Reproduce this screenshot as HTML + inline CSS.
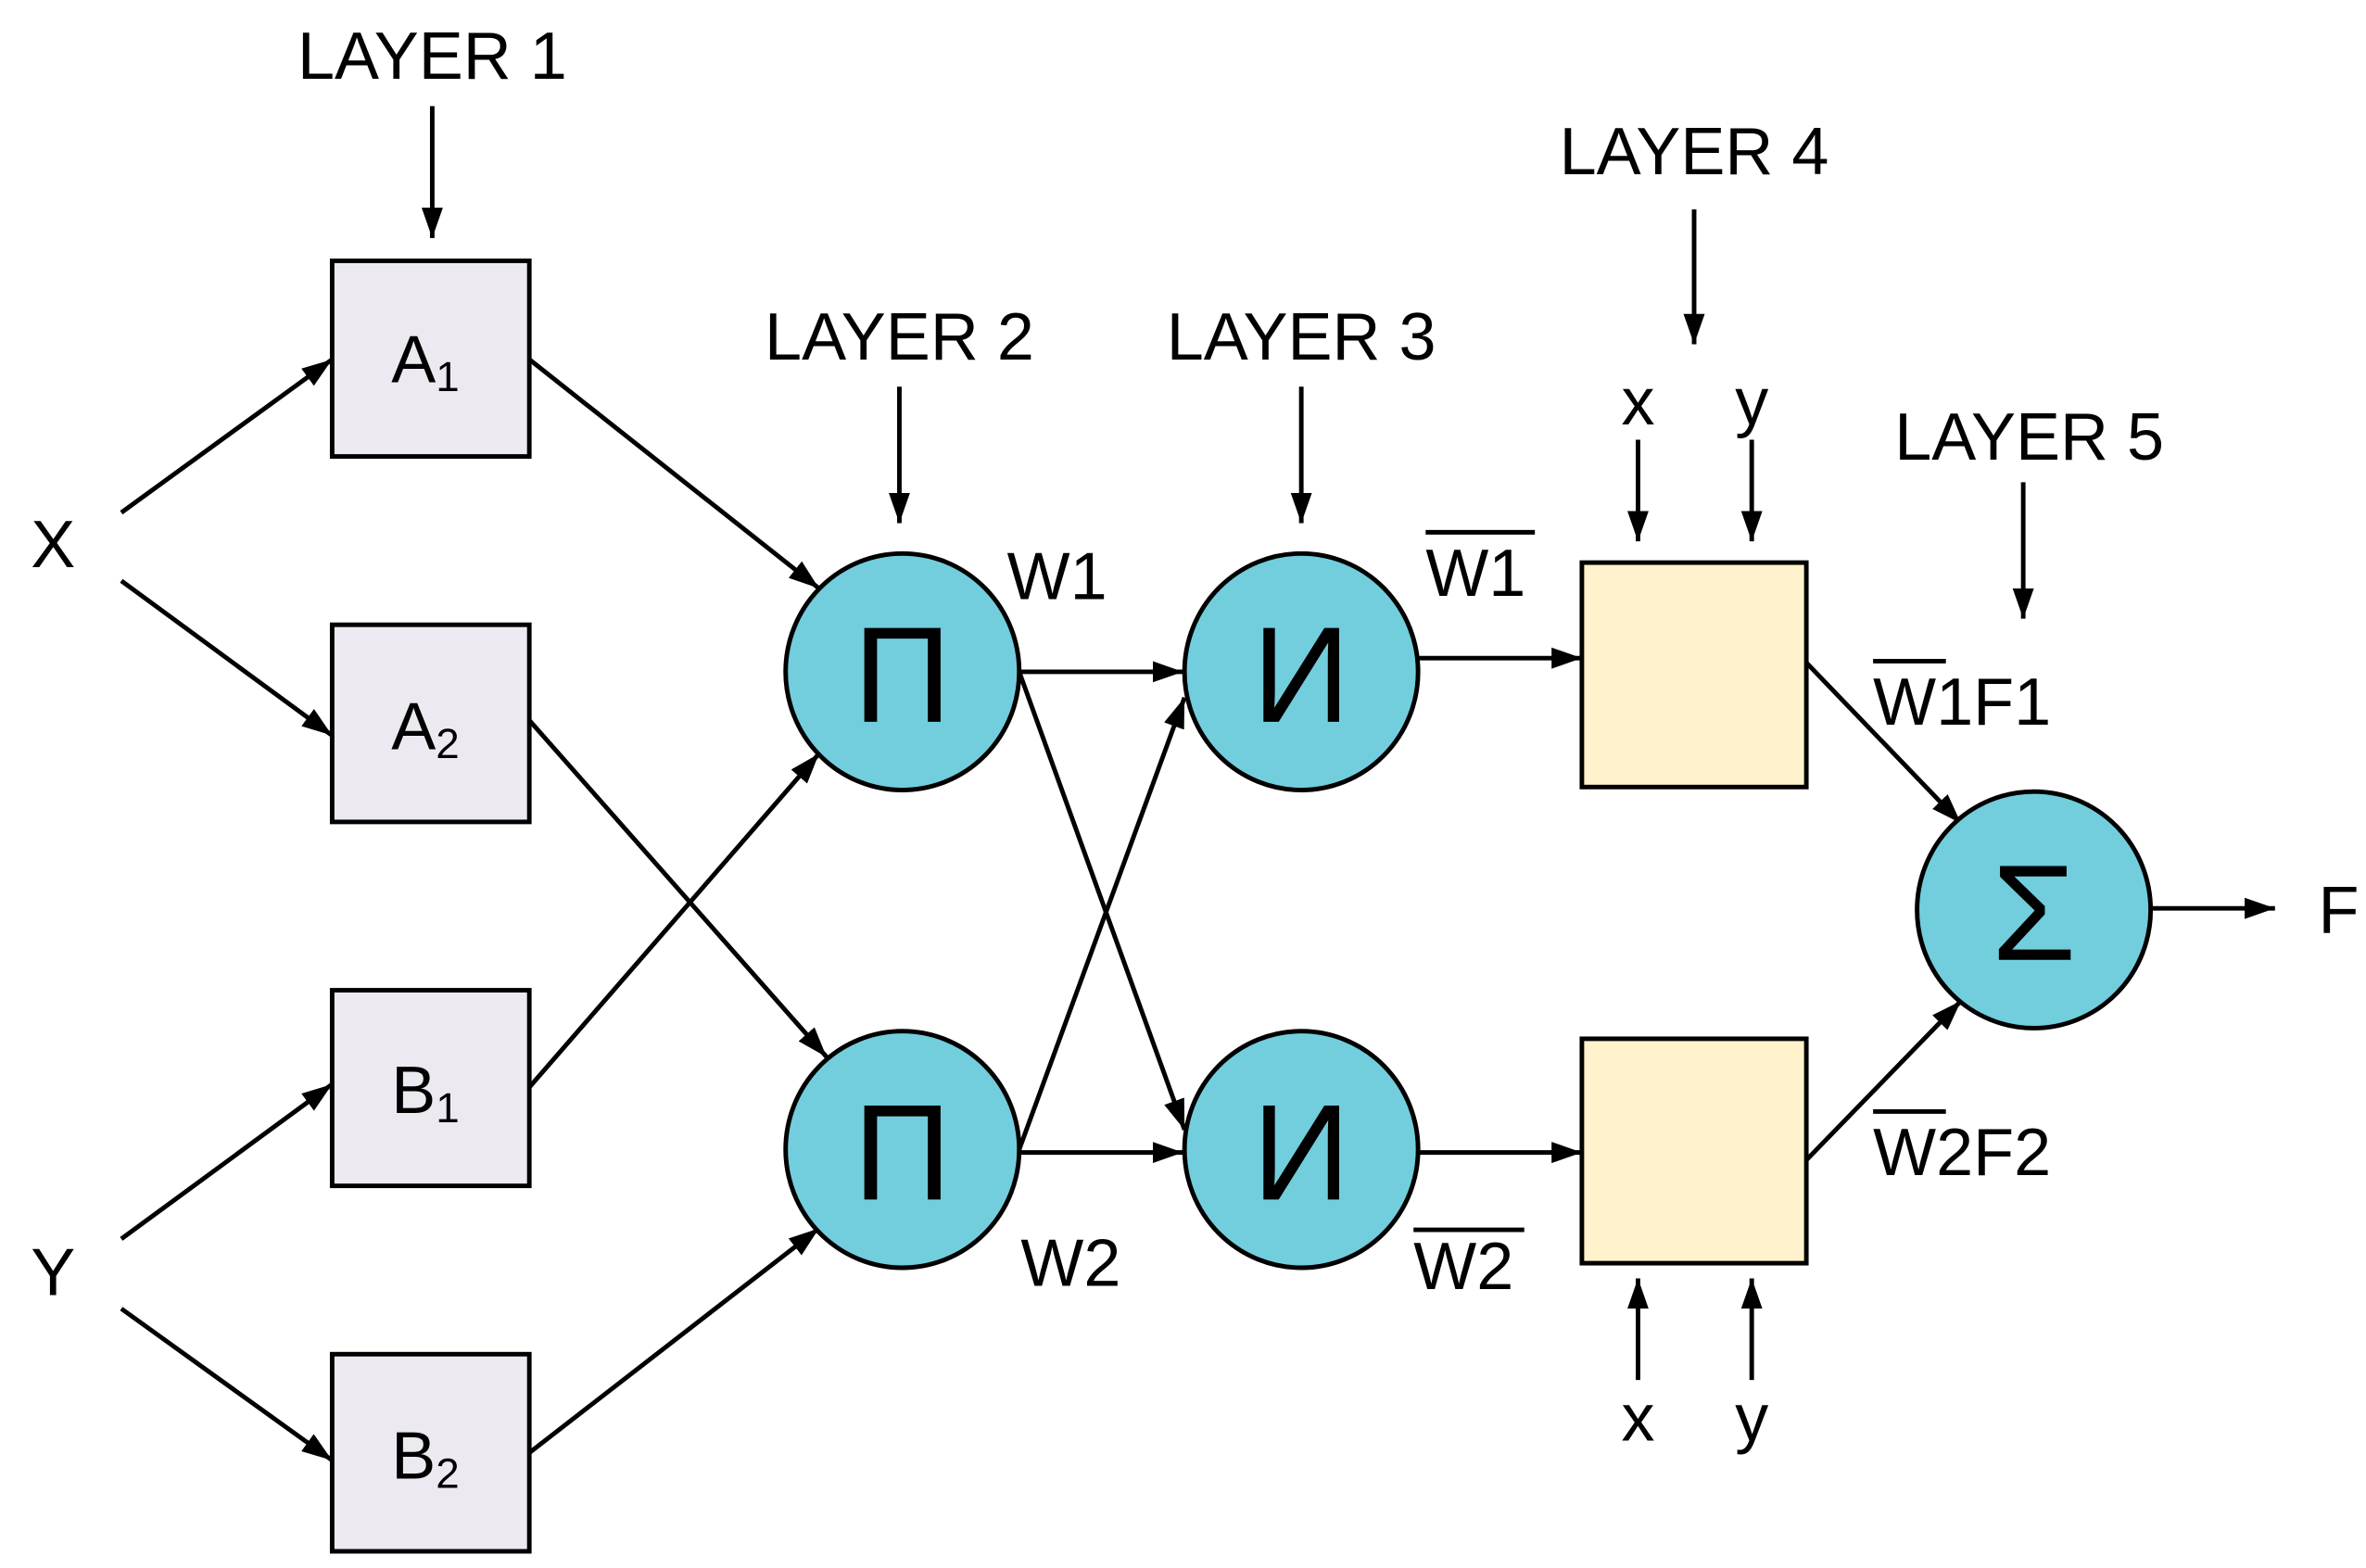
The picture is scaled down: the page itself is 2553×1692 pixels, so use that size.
<!DOCTYPE html>
<html><head><meta charset="utf-8"><style>html,body{margin:0;padding:0;background:#fff}svg{display:block}</style></head>
<body>
<svg width="2553" height="1692" viewBox="0 0 1560 1034" preserveAspectRatio="none" xmlns="http://www.w3.org/2000/svg" font-family="Liberation Sans, sans-serif">
<defs>
<marker id="a" viewBox="0 0 20 14" refX="20" refY="7" markerWidth="20" markerHeight="14" markerUnits="userSpaceOnUse" orient="auto">
<path d="M0,0 L20,7 L0,14 z" fill="#000"/></marker>
</defs>
<g stroke="#000" stroke-width="3" fill="none" marker-end="url(#a)">
<line x1="285" y1="70" x2="285" y2="157"/>
<line x1="593" y1="255" x2="593" y2="345"/>
<line x1="858" y1="255" x2="858" y2="345"/>
<line x1="1117" y1="138" x2="1117" y2="227"/>
<line x1="1334" y1="318" x2="1334" y2="408"/>
<line x1="80" y1="338" x2="219" y2="237"/>
<line x1="80" y1="383" x2="219" y2="485"/>
<line x1="80" y1="817" x2="219" y2="715"/>
<line x1="80" y1="863" x2="219" y2="963"/>
<line x1="349" y1="237" x2="540" y2="388"/>
<line x1="349" y1="475" x2="545" y2="697"/>
<line x1="349" y1="717" x2="540" y2="497"/>
<line x1="349" y1="958" x2="540" y2="810"/>
<line x1="672" y1="443" x2="780" y2="443"/>
<line x1="672" y1="443" x2="781" y2="745"/>
<line x1="672" y1="758" x2="781" y2="460"/>
<line x1="672" y1="760" x2="780" y2="760"/>
<line x1="935" y1="434" x2="1043" y2="434"/>
<line x1="935" y1="760" x2="1043" y2="760"/>
<line x1="1191" y1="437" x2="1293" y2="543"/>
<line x1="1191" y1="765" x2="1293" y2="660"/>
<line x1="1419" y1="599" x2="1500" y2="599"/>
<line x1="1080" y1="290" x2="1080" y2="357"/>
<line x1="1155" y1="290" x2="1155" y2="357"/>
<line x1="1080" y1="910" x2="1080" y2="843"/>
<line x1="1155" y1="910" x2="1155" y2="843"/>
</g>
<g stroke="#000" stroke-width="3" fill="#ede9f1">
<rect x="219" y="172" width="130" height="129"/>
<rect x="219" y="412" width="130" height="130"/>
<rect x="219" y="653" width="130" height="129"/>
<rect x="219" y="893" width="130" height="130"/>
</g>
<g stroke="#000" stroke-width="3" fill="#fff2cc">
<rect x="1043" y="371" width="148" height="148"/>
<rect x="1043" y="685" width="148" height="148"/>
</g>
<g stroke="#000" stroke-width="3" fill="#72cedd">
<ellipse cx="595" cy="443" rx="77" ry="78"/>
<ellipse cx="595" cy="758" rx="77" ry="78"/>
<ellipse cx="858" cy="443" rx="77" ry="78"/>
<ellipse cx="858" cy="758" rx="77" ry="78"/>
<ellipse cx="1341" cy="600" rx="77" ry="78"/>
</g>
<g font-size="44" fill="#000" text-anchor="middle">
<text x="285" y="52">LAYER 1</text>
<text x="593" y="237">LAYER 2</text>
<text x="858" y="237">LAYER 3</text>
<text x="1117" y="115">LAYER 4</text>
<text x="1338" y="303">LAYER 5</text>
<text x="35" y="374">X</text>
<text x="35" y="854">Y</text>
<text x="1542" y="615">F</text>
<text x="1080" y="280">x</text>
<text x="1155" y="280">y</text>
<text x="1080" y="950">x</text>
<text x="1155" y="950">y</text>
</g>
<g font-size="44" fill="#000">
<text x="258" y="252">A<tspan font-size="28" dy="6">1</tspan></text>
<text x="258" y="494">A<tspan font-size="28" dy="6">2</tspan></text>
<text x="258" y="734">B<tspan font-size="28" dy="6">1</tspan></text>
<text x="258" y="975">B<tspan font-size="28" dy="6">2</tspan></text>
<text x="664" y="395">W1</text>
<text x="673" y="848">W2</text>
<text x="940" y="393">W1</text>
<text x="932" y="850">W2</text>
<text x="1235" y="478">W1F1</text>
<text x="1235" y="775">W2F2</text>
</g>
<g stroke="#000" stroke-width="3">
<line x1="940" y1="351" x2="1012" y2="351"/>
<line x1="932" y1="811" x2="1005" y2="811"/>
<line x1="1235" y1="436" x2="1283" y2="436"/>
<line x1="1235" y1="733" x2="1283" y2="733"/>
</g>
<g font-size="90" fill="#000" text-anchor="middle">
<text x="595" y="476">Π</text>
<text x="595" y="791">Π</text>
<text x="858" y="476">И</text>
<text x="858" y="791">И</text>
<text x="1341" y="633">Σ</text>
</g>
</svg>
</body></html>
